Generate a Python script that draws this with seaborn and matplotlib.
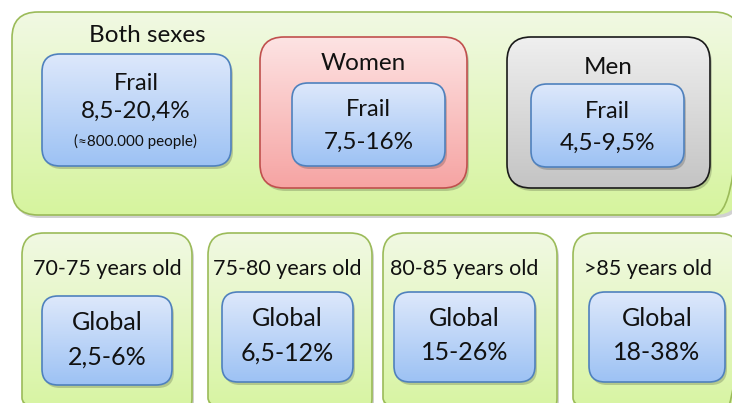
import numpy as np
import matplotlib
matplotlib.use("Agg")
import matplotlib.pyplot as plt
from matplotlib.patches import FancyBboxPatch
from matplotlib.colors import to_rgb
import seaborn as sns

# --- data ---
group_titles = ["Both sexes", "Women", "Men"]
frail_label = "Frail"
frail_ranges = ["8,5-20,4%", "7,5-16%", "4,5-9,5%"]
both_note = "(≈800.000 people)"
age_groups = ["70-75 years old", "75-80 years old", "80-85 years old", ">85 years old"]
global_label = "Global"
global_ranges = ["2,5-6%", "6,5-12%", "15-26%", "18-38%"]

sns.set_theme(style="white")
plt.rcParams['font.family'] = ['Lato', 'DejaVu Sans']

W, H = 732, 403
fig = plt.figure(figsize=(W / 100, H / 100), dpi=100)
ax = fig.add_axes([0, 0, 1, 1])
ax.set_xlim(0, W)
ax.set_ylim(H, 0)
ax.axis("off")

GREEN = ("#f1f9e3", "#d6f49e", "#9bbb59")
BLUE = ("#dde8fb", "#9dc2f4", "#4f81bd")
PINK = ("#fde3e3", "#f6a4a3", "#c0504d")
GRAY = ("#efefef", "#c4c4c4", "#1a1a1a")


def box(x0, y0, x1, y1, colors, r=18, lw=1.2, z=1, shadow=True):
    top, bot, edge = colors
    if shadow:
        sh = FancyBboxPatch((x0 + 2, y0 + 3), x1 - x0, y1 - y0,
                            boxstyle=f"round,pad=0,rounding_size={r}",
                            fc="#000000", ec="none", alpha=0.18, zorder=z - 0.2)
        ax.add_patch(sh)
    p = FancyBboxPatch((x0, y0), x1 - x0, y1 - y0,
                       boxstyle=f"round,pad=0,rounding_size={r}",
                       fc="none", ec=edge, lw=lw, zorder=z + 0.2)
    ax.add_patch(p)
    t = np.linspace(0, 1, 64)[:, None, None]
    grad = (1 - t) * np.array(to_rgb(top)) + t * np.array(to_rgb(bot))
    im = ax.imshow(grad, extent=(x0, x1, y1, y0), origin="upper",
                   aspect="auto", zorder=z, interpolation="bilinear")
    im.set_clip_path(p)


def txt(x, y, s, size, z=5):
    ax.text(x, y, s, ha="center", va="center", fontsize=size, color="#111111", zorder=z)


# top panel
box(12, 12, 740, 215, GREEN, r=26, z=1)

# Both sexes
txt(147, 35, group_titles[0], 17.5)
box(42, 54, 231, 166, BLUE, r=18, z=3)
txt(136, 84, frail_label, 17)
txt(136, 111, frail_ranges[0], 17.5)
txt(136, 141, both_note, 11)

# Women / Men
outer = [(260, 37, 467, 188, PINK), (507, 37, 710, 188, GRAY)]
inner = [(292, 83, 445, 166), (531, 84, 684, 167)]
title_y = [63, 68]
for i in range(2):
    x0, y0, x1, y1, col = outer[i]
    box(x0, y0, x1, y1, col, r=24, z=3)
    txt((x0 + x1) / 2, title_y[i], group_titles[i + 1], 17.5)
    ix0, iy0, ix1, iy1 = inner[i]
    box(ix0, iy0, ix1, iy1, BLUE, r=16, z=5)
    cx = (ix0 + ix1) / 2
    txt(cx, iy0 + 27, frail_label, 17, z=7)
    txt(cx, iy0 + 59, frail_ranges[i + 1], 17.5, z=7)

# bottom age panels
age_outer = [(22, 233, 192), (208, 233, 372), (383, 233, 557), (573, 233, 740)]
age_inner = [(42, 296, 172, 385), (222, 292, 353, 382), (394, 292, 535, 382), (589, 292, 725, 382)]
for i in range(4):
    x0, y0, x1 = age_outer[i]
    box(x0, y0, x1, 420, GREEN, r=22, z=1)
    ix0, iy0, ix1, iy1 = age_inner[i]
    txt((ix0 + ix1) / 2 if i < 3 else 648, 269, age_groups[i], 15.5)
    box(ix0, iy0, ix1, iy1, BLUE, r=16, z=3)
    cx = (ix0 + ix1) / 2
    txt(cx, iy0 + 27, global_label, 18)
    txt(cx, iy0 + 61, global_ranges[i], 18)

ax.set_xlim(0, W)
ax.set_ylim(H, 0)
fig.savefig("out.png", dpi=100, facecolor="white")
